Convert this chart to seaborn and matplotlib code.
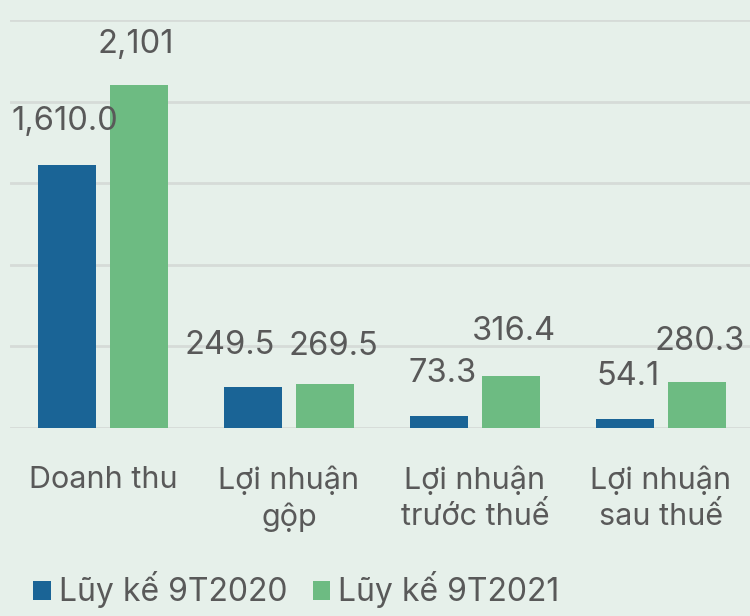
import seaborn as sns
import matplotlib.pyplot as plt
import pandas as pd

categories = ["Doanh thu", "Lợi nhuận\ngộp", "Lợi nhuận\ntrước thuế", "Lợi nhuận\nsau thuế"]
series = ["Lũy kế 9T2020", "Lũy kế 9T2021"]
values_2020 = [1610.0, 249.5, 73.3, 54.1]
values_2021 = [2101, 269.5, 316.4, 280.3]
labels_2020 = ["1,610.0", "249.5", "73.3", "54.1"]
labels_2021 = ["2,101", "269.5", "316.4", "280.3"]

BG = "#e6f0ea"
TEXT = "#595959"
colors = ["#1a6496", "#6dbb82"]

# label offsets in pixels (dx, dy) from bar top
offsets_2020 = [(-2, 44), (-23, 42), (4, 43), (3, 43)]
offsets_2021 = [(-3, 41), (8, 38), (3, 45), (3, 41)]


def main():
    data = pd.DataFrame({
        "category": categories * 2,
        "series": [series[0]] * 4 + [series[1]] * 4,
        "value": values_2020 + values_2021,
    })

    sns.set_theme(style="white")
    plt.rcParams["font.family"] = ["Inter", "DejaVu Sans"]

    fig = plt.figure(figsize=(7.5, 6.16), dpi=100, facecolor=BG)
    ax = fig.add_axes([10 / 750, 188 / 616, 744 / 750, 408 / 616])
    ax.set_facecolor(BG)

    sns.barplot(data=data, x="category", y="value", hue="series",
                palette=colors, width=0.774, gap=0.19, ax=ax,
                saturation=1, legend=True, linewidth=0)

    ax.set_ylim(0, 2500)
    ax.set_xlim(-0.5, 3.5)
    ax.set_yticks([0, 500, 1000, 1500, 2000, 2500])
    ax.yaxis.grid(True, color="#d6dbd8", linewidth=2)
    ax.set_axisbelow(True)
    ax.tick_params(axis="y", left=False, labelleft=False)
    ax.tick_params(axis="x", bottom=False, pad=21, labelsize=22, colors=TEXT)
    for lbl in ax.get_xticklabels():
        lbl.set_linespacing(1.3)
        lbl.set_verticalalignment("top")
    ax.set_xlabel("")
    ax.set_ylabel("")
    for s in ax.spines.values():
        s.set_visible(False)

    for container, texts, offs in zip(ax.containers, [labels_2020, labels_2021],
                                      [offsets_2020, offsets_2021]):
        for bar, txt, (dx, dy) in zip(container, texts, offs):
            x = bar.get_x() + bar.get_width() / 2
            ax.annotate(txt, (x, bar.get_height()), xytext=(dx, dy),
                        textcoords="offset pixels", ha="center", va="center",
                        fontsize=23.5, color=TEXT, annotation_clip=False)

    handles, lbls = ax.get_legend_handles_labels()
    ax.legend(handles, lbls, loc="center left", bbox_to_anchor=(33 / 750, 1 - 590 / 616),
              bbox_transform=fig.transFigure, ncol=2, frameon=False,
              fontsize=23, labelcolor=TEXT, handlelength=0.55, handleheight=0.55,
              handletextpad=0.25, columnspacing=0.8, borderaxespad=0, borderpad=0)

    fig.savefig("out.png", dpi=100, facecolor=BG)


if __name__ == "__main__":
    main()
